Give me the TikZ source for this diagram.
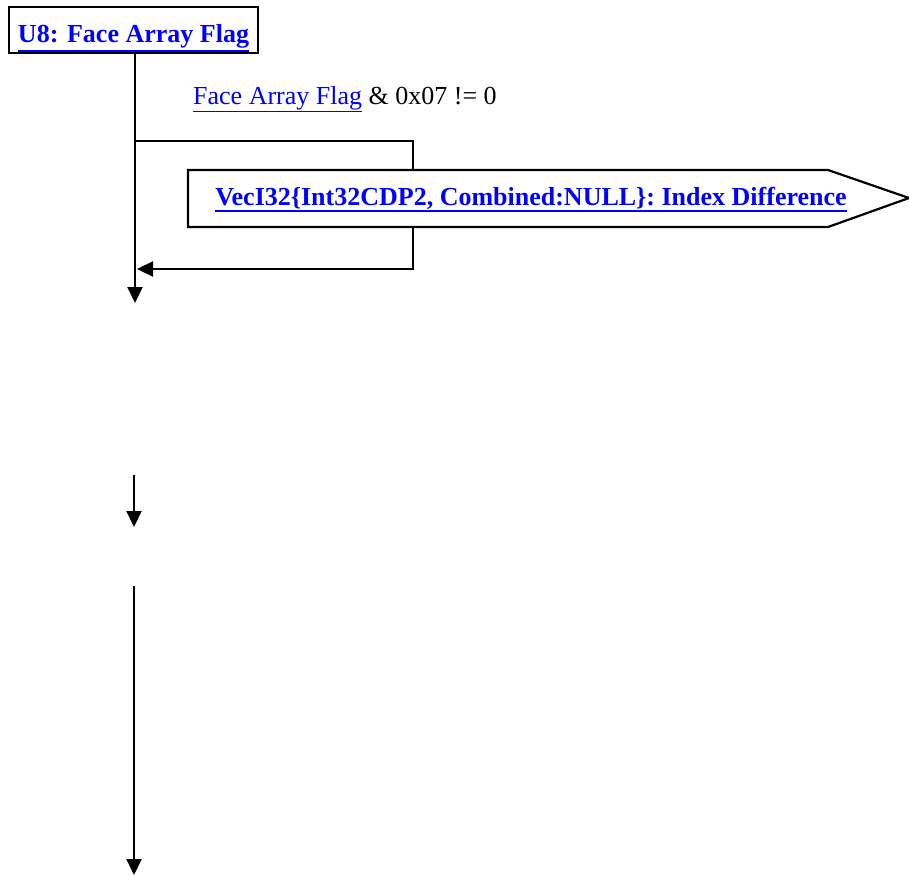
\documentclass[tikz,border=0pt]{standalone}
\usepackage{fontspec}
\setmainfont{Liberation Serif}
\usetikzlibrary{arrows.meta}
\definecolor{linkblue}{RGB}{0,0,255}
\newcommand\ulink[2][1.6pt]{\leavevmode\vtop{\hbox{#2}\kern1.2pt\hrule height #1}}
\begin{document}
\begin{tikzpicture}[x=1pt,y=-1pt,
  line/.style={line width=2.2pt,draw=black},
  arr/.style={line, -{Triangle[length=16pt,width=15pt]}},
  boxed/.style={draw=black,line width=2.2pt,minimum width=249pt,minimum height=46pt,inner sep=0pt},
  link/.style={text=linkblue,font=\fontsize{26}{30}\selectfont\bfseries,inner sep=0pt},
  plain/.style={font=\fontsize{26}{30}\selectfont,inner sep=0pt}]
\useasboundingbox (0,0) rectangle (909,875);
% top box
\node[boxed] (u8) at (133.5,30) {};
\node[link,anchor=base] (u8t) at (133.5,43) {\ulink[2pt]{U8: Face Array Flag}};
% condition label
\node[plain,anchor=base west] (cond) at (193,104) {\textcolor{linkblue}{\ulink{Face Array Flag}} \& 0x07 != 0};
% main line
\coordinate (top) at (135,53);
\coordinate (tip1) at (135,303);
\draw[arr] (top) -- (tip1);
% arrow-shaped box
\coordinate (vtop) at (413,170);
\coordinate (vbot) at (413,227);
\draw[line,line join=miter] (188,170) -- (828,170) -- (909,198) -- (828,227) -- (188,227) -- cycle;
\node[link,anchor=base] (vec) at (531,205) {\ulink[2pt]{VecI32\{Int32CDP2, Combined:NULL\}: Index Difference}};
% loop
\coordinate (lp) at (135,141);
\coordinate (lpend) at (137,269);
\draw[line] (lp) -| (vtop);
\draw[arr] (vbot) |- (lpend);
% second arrow
\coordinate (a2s) at (134,475);
\coordinate (a2e) at (134,527);
\draw[arr] (a2s) -- (a2e);
% third arrow
\coordinate (a3s) at (134,586);
\coordinate (a3e) at (134,875);
\draw[arr] (a3s) -- (a3e);
\end{tikzpicture}
\end{document}
